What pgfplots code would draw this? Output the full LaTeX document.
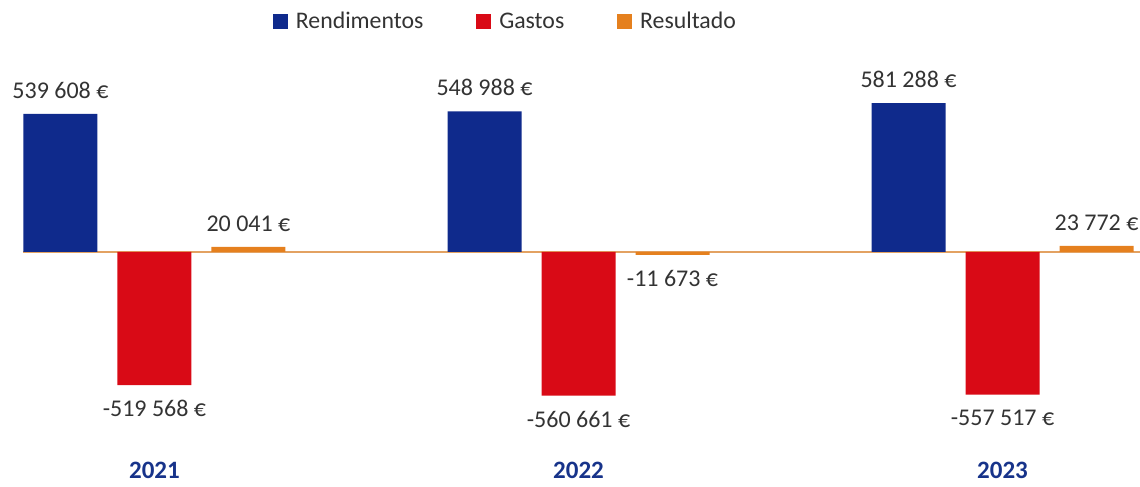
\documentclass[border=0pt]{standalone}
\usepackage{pgfplots}
\pgfplotsset{compat=1.18}
\usepackage{fontspec}
\setmainfont{Carlito}
\definecolor{cblue}{HTML}{0F2A8C}
\definecolor{cred}{HTML}{D90A16}
\definecolor{corange}{HTML}{E5801E}
\definecolor{czero}{HTML}{E3A262}
\definecolor{ctext}{HTML}{333333}
\definecolor{cyear}{HTML}{17338A}
\begin{document}
\begin{tikzpicture}[font=\fontsize{12}{14.4}\selectfont]
\useasboundingbox (0,0) rectangle (570pt,243.5pt);
\begin{axis}[
  at={(11.5pt,40.7pt)}, anchor=south west,
  scale only axis, width=555.5pt, height=153.6pt,
  xmin=-0.31, xmax=2.31, ymin=-600000, ymax=600000,
  axis lines=none, clip=false,
  ybar, bar width=37pt,
  xtick={0,1,2}, xticklabels={2021,2022,2023},
  /pgf/number format/assume math mode=true,
  point meta=y,
  nodes near coords={\pgfmathprintnumber[fixed,precision=0,1000 sep={\ }]{\pgfplotspointmeta}~€},
  nodes near coords align={vertical},
  every node near coord/.append style={text=ctext, inner sep=7.5pt, font=\fontsize{12}{14.4}\selectfont},
  legend columns=3,
  legend style={draw=none, fill=none, at={(0.4352,1.249)}, anchor=center,
    font=\fontsize{11.9}{14}\selectfont, text=ctext,
    /tikz/every even column/.append style={column sep=24.5pt}},
  legend image code/.code={\fill[#1] (0pt,-3.6pt) rectangle (7.4pt,3.8pt); \path (9.4pt,0pt);},
]
\draw[czero, line width=0.7pt] (axis cs:-0.31,0) -- (axis cs:2.38,0);
\addplot[fill=cblue, draw=none, bar shift=-47pt] coordinates {(0,539608) (1,548988) (2,581288)};
\addplot[fill=cred, draw=none, bar shift=0pt] coordinates {(0,-519568) (1,-560661) (2,-557517)};
\addplot[fill=corange, draw=none, bar shift=47pt] coordinates {(0,20041) (1,-11673) (2,23772)};
\legend{Rendimentos,Gastos,Resultado}
\node[anchor=base, text=cyear, font=\fontsize{12.5}{15}\selectfont\bfseries] at (axis cs:0,-600000) [yshift=-36.5pt] {2021};
\node[anchor=base, text=cyear, font=\fontsize{12.5}{15}\selectfont\bfseries] at (axis cs:1,-600000) [yshift=-36.5pt] {2022};
\node[anchor=base, text=cyear, font=\fontsize{12.5}{15}\selectfont\bfseries] at (axis cs:2,-600000) [yshift=-36.5pt] {2023};
\end{axis}
\end{tikzpicture}
\end{document}
